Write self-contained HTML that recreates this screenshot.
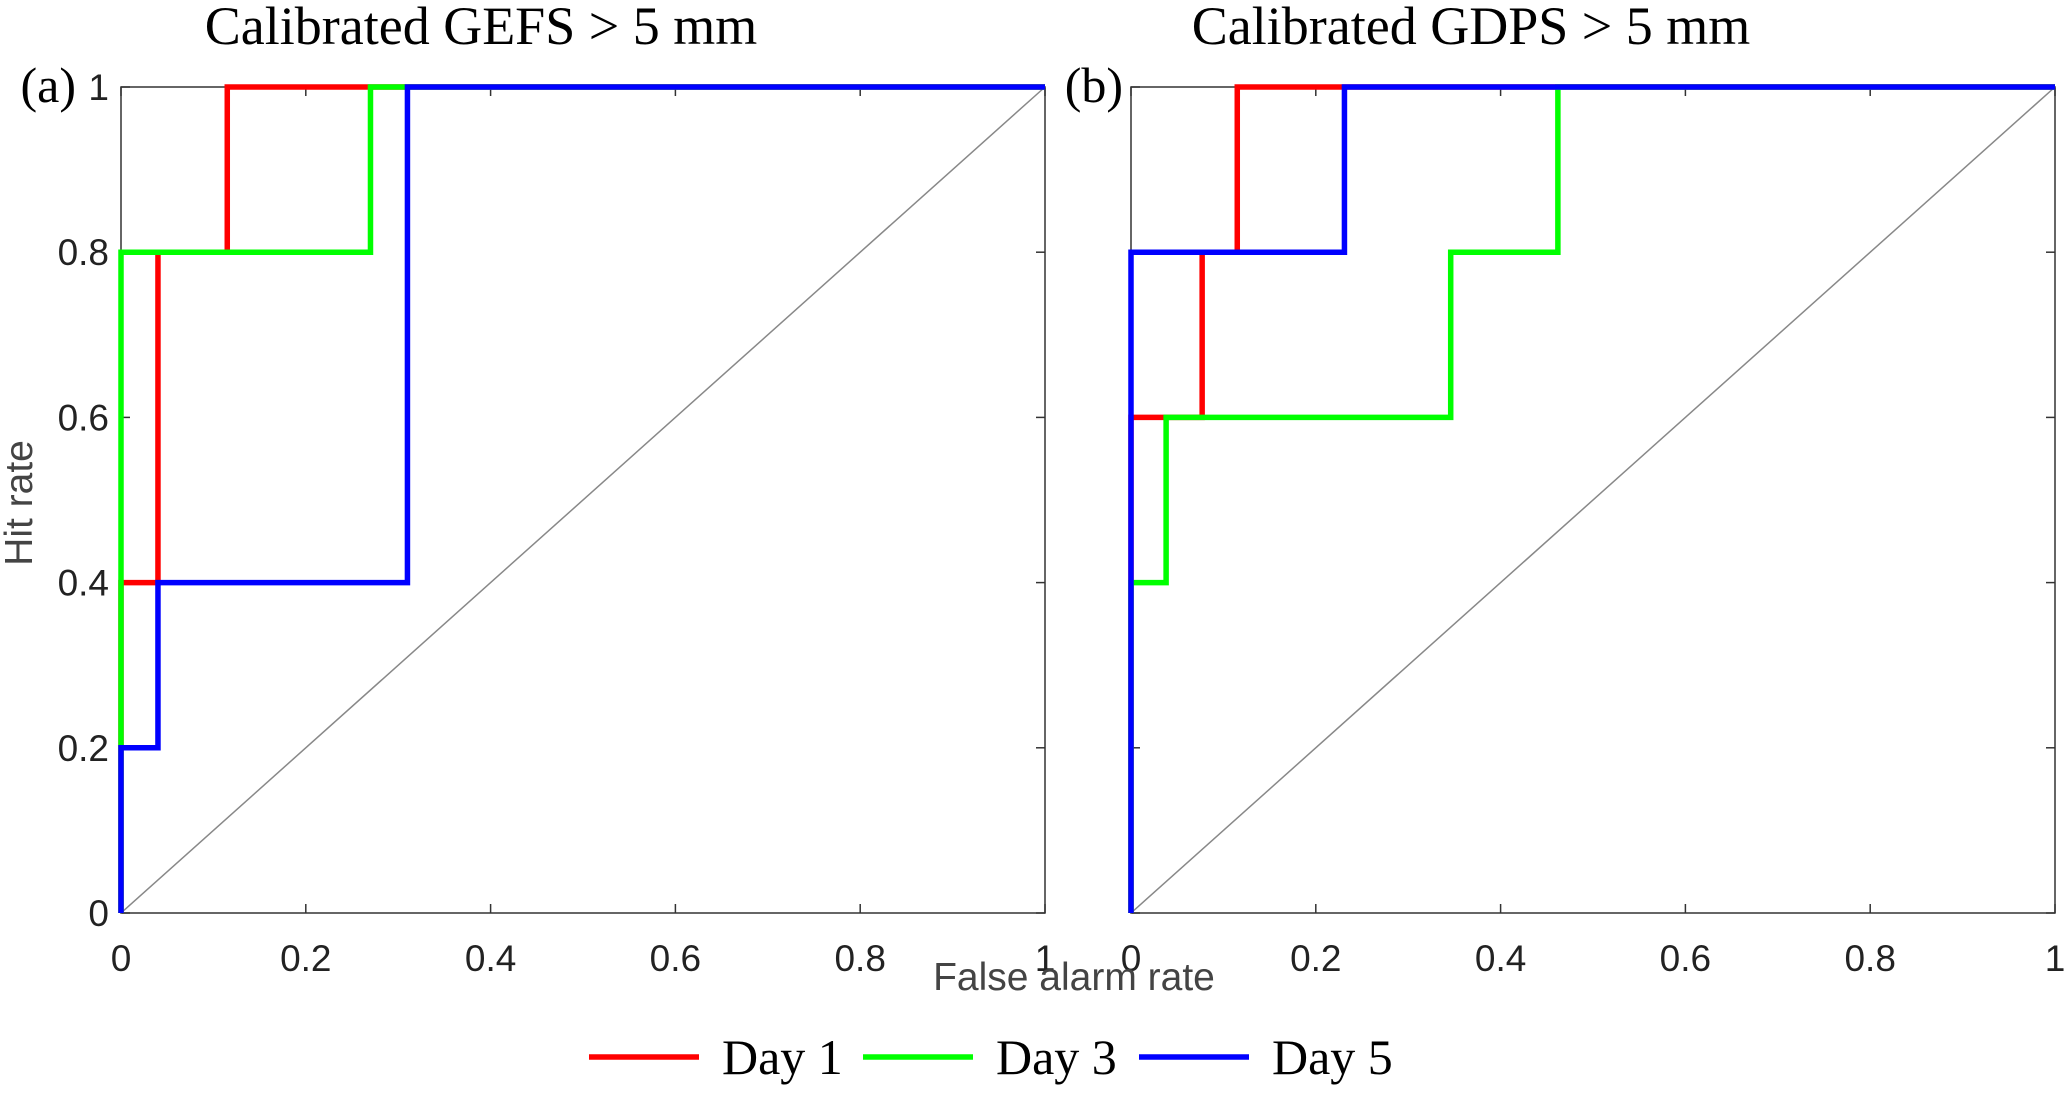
<!DOCTYPE html>
<html><head><meta charset="utf-8"><style>
html,body{margin:0;padding:0;background:#fff;}
svg{display:block;}
.tick{font-family:"Liberation Sans",sans-serif;font-size:37px;fill:#222;}
.ttl{font-family:"Liberation Serif",serif;font-size:54px;fill:#000;}
.leg{font-family:"Liberation Serif",serif;font-size:50px;fill:#000;}
.lab{font-family:"Liberation Sans",sans-serif;font-size:39px;fill:#444;}
</style></head><body>
<svg id="chart" width="2067" height="1103" viewBox="0 0 2067 1103" xmlns="http://www.w3.org/2000/svg"></svg>
<script>
const ticks=[0,0.2,0.4,0.6,0.8,1];
const tickLabels=["0","0.2","0.4","0.6","0.8","1"];
const seriesNames=["Day 1","Day 3","Day 5"];
const seriesColors=["#ff0000","#00ff00","#0000ff"];
// Panel a: GEFS
const gefsDay1X=[0,0,0.04,0.04,0.115,0.115,1];
const gefsDay1Y=[0,0.4,0.4,0.8,0.8,1,1];
const gefsDay3X=[0,0,0.27,0.27,1];
const gefsDay3Y=[0,0.8,0.8,1,1];
const gefsDay5X=[0,0,0.04,0.04,0.31,0.31,1];
const gefsDay5Y=[0,0.2,0.2,0.4,0.4,1,1];
// Panel b: GDPS
const gdpsDay1X=[0,0,0.077,0.077,0.115,0.115,1];
const gdpsDay1Y=[0,0.6,0.6,0.8,0.8,1,1];
const gdpsDay3X=[0,0,0.038,0.038,0.346,0.346,0.462,0.462,1];
const gdpsDay3Y=[0,0.4,0.4,0.6,0.6,0.8,0.8,1,1];
const gdpsDay5X=[0,0,0.231,0.231,1];
const gdpsDay5Y=[0,0.8,0.8,1,1];

const NS="http://www.w3.org/2000/svg";
const svg=document.getElementById('chart');
function mk(tag,attrs,parent){const e=document.createElementNS(NS,tag);for(const k in attrs)e.setAttribute(k,attrs[k]);(parent||svg).appendChild(e);return e;}

const panels=[
 {id:'a',title:'Calibrated GEFS > 5 mm',x0:121,x1:1045,y0:913,y1:87,lx:76,label:'(a)',series:[[gefsDay1X,gefsDay1Y],[gefsDay3X,gefsDay3Y],[gefsDay5X,gefsDay5Y]],ylab:true},
 {id:'b',title:'Calibrated GDPS > 5 mm',x0:1131,x1:2055,y0:913,y1:87,lx:1123,label:'(b)',series:[[gdpsDay1X,gdpsDay1Y],[gdpsDay3X,gdpsDay3Y],[gdpsDay5X,gdpsDay5Y]],ylab:false}
];
panels.forEach(p=>{
 const g=mk('g',{});
 
 
 const sx=v=>p.x0+v*(p.x1-p.x0);
 const sy=v=>p.y0+v*(p.y1-p.y0);
 const fr=mk('rect',{x:p.x0,y:p.y1,width:p.x1-p.x0,height:p.y0-p.y1,fill:'none',stroke:'#333','stroke-width':1.5},g);
 
 
 ticks.forEach((t,i)=>{
  mk('line',{x1:sx(t),x2:sx(t),y1:p.y0,y2:p.y0-9,stroke:'#333','stroke-width':1.5},g);
  mk('line',{x1:sx(t),x2:sx(t),y1:p.y1,y2:p.y1+9,stroke:'#333','stroke-width':1.5},g);
  mk('line',{x1:p.x0,x2:p.x0+9,y1:sy(t),y2:sy(t),stroke:'#333','stroke-width':1.5},g);
  mk('line',{x1:p.x1,x2:p.x1-9,y1:sy(t),y2:sy(t),stroke:'#333','stroke-width':1.5},g);
  const xt=mk('text',{x:sx(t),y:p.y0+58,'text-anchor':'middle',class:'tick'},g);
  xt.textContent=tickLabels[i];
  
  
  if(p.ylab){
   const yt=mk('text',{x:p.x0-12,y:sy(t)+13,'text-anchor':'end',class:'tick'},g);
   yt.textContent=tickLabels[i];
   
   
  }
 });
 const dg=mk('line',{x1:sx(0),y1:sy(0),x2:sx(1),y2:sy(1),stroke:'#888','stroke-width':1.5},g);
 
 
 p.series.forEach((s,i)=>{
  const pts=s[0].map((x,j)=>sx(x)+','+sy(s[1][j])).join(' ');
  const pl=mk('polyline',{points:pts,fill:'none',stroke:seriesColors[i],'stroke-width':5.5,'stroke-linejoin':'miter'},g);
  
  
 });
 const t=mk('text',{x:(p.x0+p.x1)/2-(p.id==='a'?102:122),y:44,'text-anchor':'middle',class:'ttl'},g);
 t.textContent=p.title;
 
 
 const l=mk('text',{x:p.lx,y:p.y1+15,'text-anchor':'end',class:'leg'},g);
 l.textContent=p.label;
 
 
});
const yl=mk('text',{x:0,y:0,'text-anchor':'middle',class:'lab',transform:'translate(32,503) rotate(-90)'});
yl.textContent='Hit rate';


const xl=mk('text',{x:1074,y:990,'text-anchor':'middle',class:'lab'});
xl.textContent='False alarm rate';


const legX=[589,863,1139];
seriesNames.forEach((n,i)=>{
 const g=mk('g',{});
 
 
 mk('line',{x1:legX[i],x2:legX[i]+110,y1:1057,y2:1057,stroke:seriesColors[i],'stroke-width':5.5},g);
 const t=mk('text',{x:legX[i]+133,y:1074,class:'leg'},g);
 t.textContent=n;
});
</script>
</body></html>
